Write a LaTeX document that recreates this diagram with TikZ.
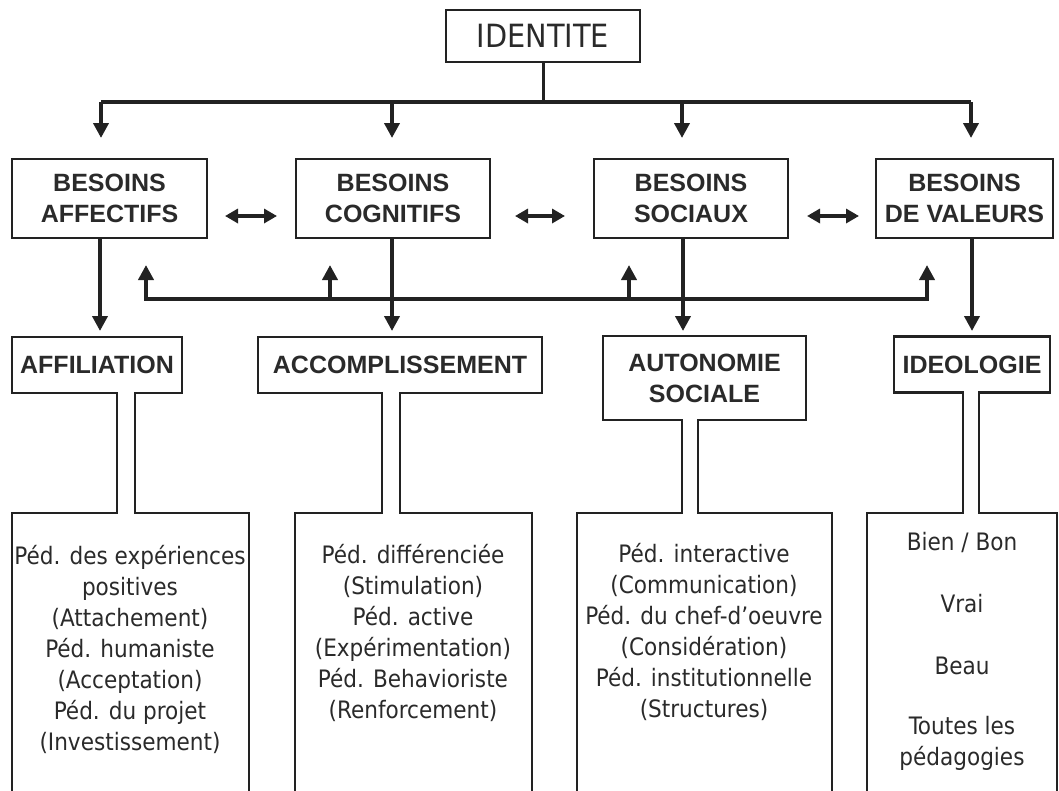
\documentclass[tikz,border=0pt]{standalone}
\usepackage{fontspec}
\newfontfamily\hdrfont{Liberation Sans}
\newfontfamily\txtfont{DejaVu Sans Condensed}
\usetikzlibrary{arrows.meta}
\definecolor{ink}{HTML}{222222}
\definecolor{textink}{HTML}{2a2a2a}

\begin{document}
\begin{tikzpicture}[x=1pt,y=-1pt,
  box/.style={draw=ink, line width=2.6pt, inner sep=0pt, outer sep=0pt, align=center, text=textink},
  need/.style={box, font=\hdrfont\bfseries\fontsize{25}{31}\selectfont},
  head/.style={inner sep=0pt, outer sep=0pt, align=center, text=textink,
    font=\hdrfont\bfseries\fontsize{25}{31}\selectfont},
  body/.style={inner sep=0pt, align=center, text=textink, font=\txtfont\fontsize{24}{31}\selectfont},
  outline/.style={draw=ink, line width=2.6pt, line join=miter},
  bus/.style={draw=ink, line width=4pt},
  link/.style={draw=ink, line width=4pt, -{Triangle[width=15pt,length=15pt]}},
  both/.style={draw=ink, line width=4pt,
    {Triangle[width=14pt,length=13pt]}-{Triangle[width=14pt,length=13pt]}},
]
\useasboundingbox (0,0) rectangle (1059,790);
\clip (0,0) rectangle (1059,790);

% top node
\node[box, font=\txtfont\fontsize{32}{38}\selectfont, minimum width=194pt, minimum height=52pt]
  (id) at (543,36) {IDENTITE};

% four needs
\node[need, minimum width=195pt, minimum height=79pt] (baff) at (109.5,198.5) {BESOINS\\AFFECTIFS};
\node[need, minimum width=194pt, minimum height=79pt] (bcog) at (393,198.5) {BESOINS\\COGNITIFS};
\node[need, minimum width=194pt, minimum height=79pt] (bsoc) at (691,198.5) {BESOINS\\SOCIAUX};
\node[need, minimum width=177pt, minimum height=79pt] (bval) at (964.5,198.5) {BESOINS\\DE VALEURS};

% distribution bus from IDENTITE
\coordinate (b1) at (101,102);
\coordinate (b2) at (392,102);
\coordinate (b3) at (682,102);
\coordinate (b4) at (971,102);
\coordinate (t1) at (101,138);
\coordinate (t2) at (392,138);
\coordinate (t3) at (682,138);
\coordinate (t4) at (971,138);
\draw[ink, line width=3pt] (id.south) -- (id.south |- b1);
\draw[bus] (b1) -- (b4);
\foreach \i in {1,...,4} \draw[link] (b\i) -- (t\i);

% links between neighbouring needs
\coordinate (row) at (0,216);
\draw[both, shorten <=18pt, shorten >=19pt] (baff.east |- row) -- (bcog.west |- row);
\draw[both, shorten <=25pt, shorten >=29pt] (bcog.east |- row) -- (bsoc.west |- row);
\draw[both, shorten <=19pt, shorten >=17pt] (bsoc.east |- row) -- (bval.west |- row);

% lower headers
\node[head, minimum width=170pt, minimum height=56pt] (aff) at (97,365) {AFFILIATION};
\node[head, minimum width=284pt, minimum height=56pt] (acc) at (400,365) {ACCOMPLISSEMENT};
\node[head, minimum width=203pt, minimum height=84pt] (aut) at (704.5,378) {AUTONOMIE\\SOCIALE};
\node[head, minimum width=156pt, minimum height=56pt] (ide) at (972,364.5) {IDEOLOGIE};

% arrows from needs to headers
\coordinate (d1) at (100,331);
\coordinate (d2) at (392,331);
\coordinate (d3) at (683,331);
\coordinate (d4) at (972,331);
\draw[link] (baff.south -| d1) -- (d1);
\draw[link] (bcog.south -| d2) -- (d2);
\draw[link] (bsoc.south -| d3) -- (d3);
\draw[link] (bval.south -| d4) -- (d4);

% feedback line back up to the needs
\coordinate (fm) at (500,299);
\coordinate (u1) at (146,265);
\coordinate (u2) at (330,265);
\coordinate (u3) at (629,265);
\coordinate (u4) at (927,265);
\draw[link] (fm) -| (u1);
\draw[link] (fm) -| (u4);
\draw[link] (u2 |- fm) -- (u2);
\draw[link] (u3 |- fm) -- (u3);

% header + stem + open panel outlines
\draw[outline] (12,800) |- (117,513) |- (aff.south west) -- (aff.north west)
  -- (aff.north east) -- (aff.south east) -| (135,513) -| (249,800);
\draw[outline] (295,800) |- (382,513) |- (acc.south west) -- (acc.north west)
  -- (acc.north east) -- (acc.south east) -| (400,513) -| (532,800);
\draw[outline] (577,800) |- (682,513) |- (aut.south west) -- (aut.north west)
  -- (aut.north east) -- (aut.south east) -| (698,513) -| (832,800);
\draw[outline] (867,800) |- (963,513) |- (ide.south west) -- (ide.north west)
  -- (ide.north east) -- (ide.south east) -| (979,513) -| (1057,800);

% panel texts
\node[body] (taff) at (130,649) {Péd. des expériences\\positives\\(Attachement)\\Péd. humaniste\\(Acceptation)\\Péd. du projet\\(Investissement)};
\node[body] (tacc) at (413,633) {Péd. différenciée\\(Stimulation)\\Péd. active\\(Expérimentation)\\Péd. Behavioriste\\(Renforcement)};
\node[body] (taut) at (704,632) {Péd. interactive\\(Communication)\\Péd. du chef-d’oeuvre\\(Considération)\\Péd. institutionnelle\\(Structures)};
\node[body] (tide) at (962,651) {Bien / Bon\\[31pt]Vrai\\[31pt]Beau\\[29pt]Toutes les\\pédagogies};
\end{tikzpicture}
\end{document}
